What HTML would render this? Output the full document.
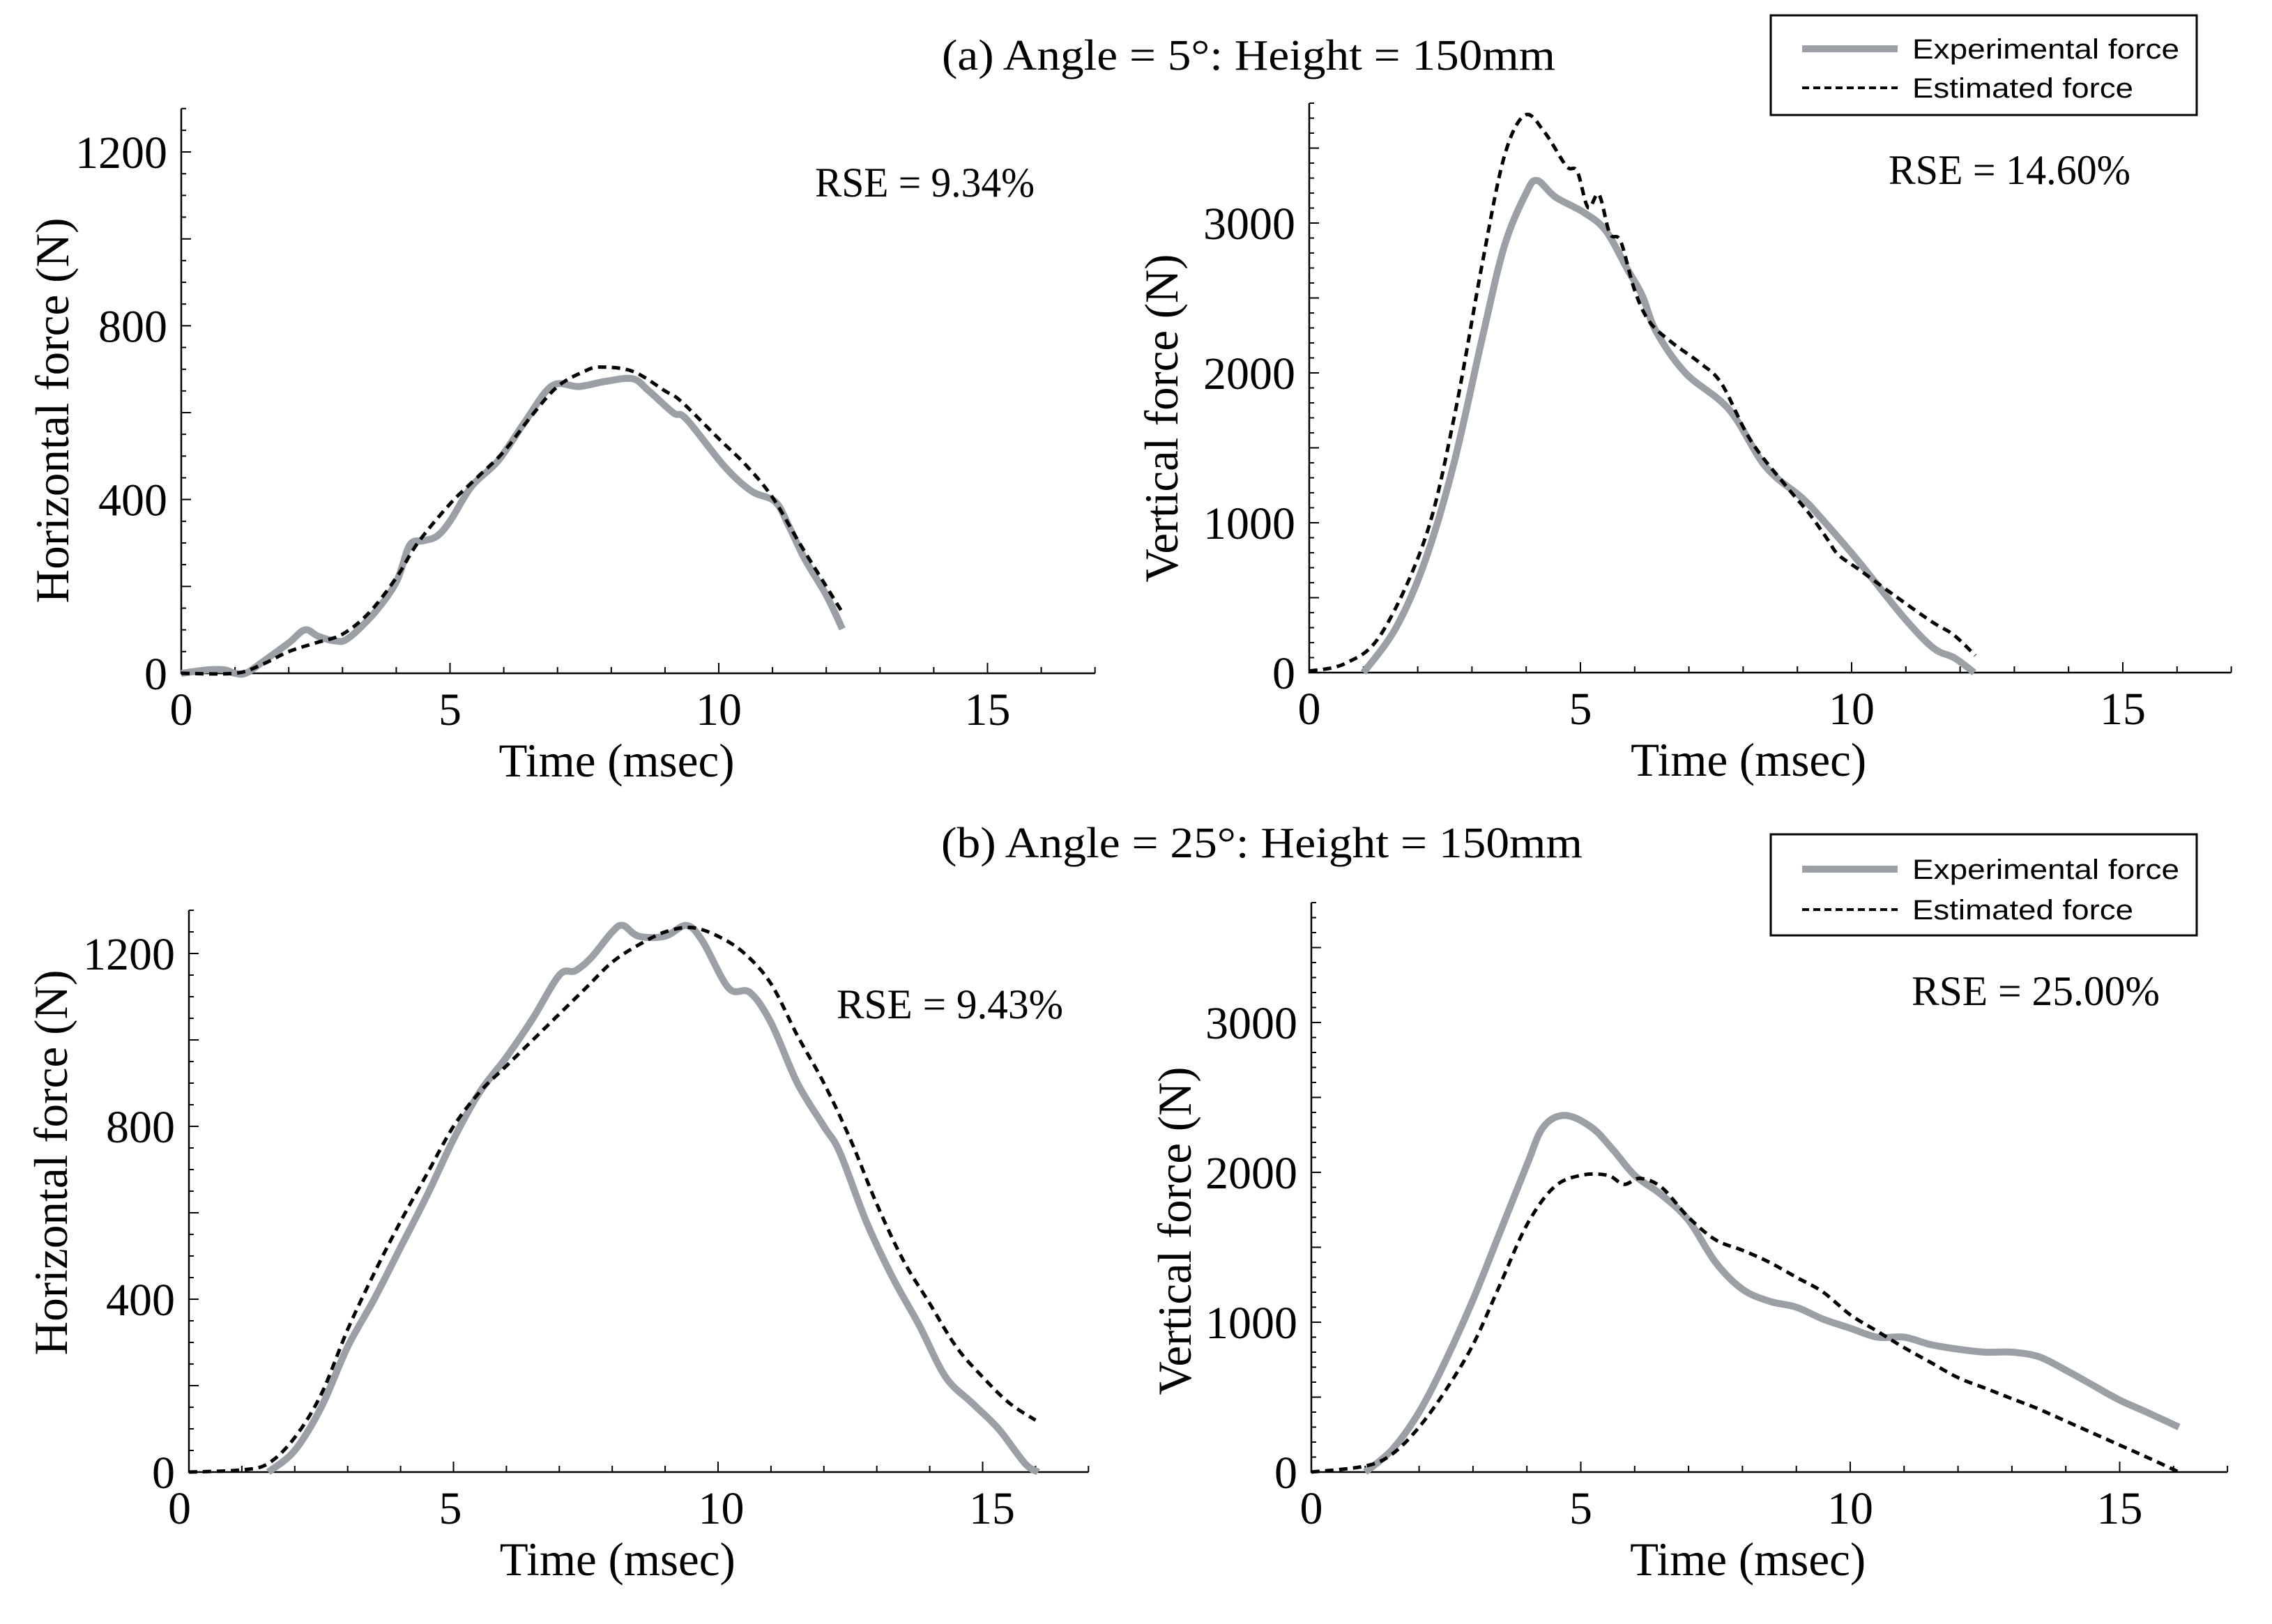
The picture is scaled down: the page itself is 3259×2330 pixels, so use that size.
<!DOCTYPE html>
<html><head><meta charset="utf-8">
<style>
html,body{margin:0;padding:0;background:#fff;}
svg{display:block;}
text{font-family:"Liberation Serif",serif;fill:#000;}
.sans{font-family:"Liberation Sans",sans-serif;}
</style></head>
<body>
<svg id="fig" width="3259" height="2330" viewBox="0 0 3259 2330" xmlns="http://www.w3.org/2000/svg">
<rect width="3259" height="2330" fill="#fff"/>
<text x="1351" y="100" font-size="62" textLength="880" lengthAdjust="spacingAndGlyphs">(a) Angle = 5°: Height = 150mm</text>
<text x="1350" y="1230" font-size="62" textLength="920" lengthAdjust="spacingAndGlyphs">(b) Angle = 25°: Height = 150mm</text>
<g>
<rect x="2540" y="22" width="611" height="143" fill="#fff" stroke="#000" stroke-width="3"/>
<line x1="2585" y1="70" x2="2722" y2="70" stroke="#9ba0a6" stroke-width="10"/>
<line x1="2585" y1="126" x2="2722" y2="126" stroke="#000" stroke-width="4" stroke-dasharray="10 6"/>
<text class="sans" x="2743" y="84" font-size="40" textLength="383" lengthAdjust="spacingAndGlyphs">Experimental force</text>
<text class="sans" x="2743" y="140" font-size="40" textLength="317" lengthAdjust="spacingAndGlyphs">Estimated force</text>
</g>
<g>
<rect x="2540" y="1197" width="611" height="145" fill="#fff" stroke="#000" stroke-width="3"/>
<line x1="2585" y1="1247" x2="2722" y2="1247" stroke="#9ba0a6" stroke-width="10"/>
<line x1="2585" y1="1305" x2="2722" y2="1305" stroke="#000" stroke-width="4" stroke-dasharray="10 6"/>
<text class="sans" x="2743" y="1261" font-size="40" textLength="383" lengthAdjust="spacingAndGlyphs">Experimental force</text>
<text class="sans" x="2743" y="1319" font-size="40" textLength="317" lengthAdjust="spacingAndGlyphs">Estimated force</text>
</g>
</svg>
<script>
// ---- data ----
const tlExpT=[0,0.5,0.8,1.0,1.2,1.5,2.0,2.3,2.55,2.85,3.1,3.6,4.0,4.25,4.5,4.75,5.0,5.4,5.9,6.4,6.9,7.4,7.9,8.4,8.7,9.15,9.4,10.1,10.6,11.05,11.3,11.6,12.0,12.3];
const tlExpV=[0,8,8,0,0,25,70,100,85,75,80,140,210,295,305,315,350,430,490,580,662,660,672,678,650,600,585,477,420,395,340,263,180,102];
const tlEstT=[0,1,1.5,2,2.5,3,3.5,4,4.4,5,5.5,6,6.5,7,7.5,7.8,8.4,9,9.3,10,10.5,11,11.5,12,12.3];
const tlEstV=[0,0,20,50,70,90,140,220,300,390,450,510,590,660,695,705,695,650,626,540,480,405,300,200,140];
const trExpT=[1.0,1.6,2.14,2.67,3.2,3.6,4.0,4.2,4.54,5.07,5.47,5.87,6.14,6.4,6.94,7.74,8.41,9.08,9.4,10.1,10.95,11.5,11.9,12.26];
const trExpV=[0,300,750,1400,2250,2850,3200,3284,3173,3069,2948,2689,2516,2274,1998,1756,1376,1168,1047,754,373,166,97,0];
const trEstT=[0,0.67,1.33,2.14,2.67,3.2,3.6,3.98,4.34,4.74,4.94,5.14,5.34,5.54,5.74,6.0,6.27,6.68,7.2,7.6,8.14,8.81,9.21,9.55,9.75,10.15,10.8,11.48,11.88,12.28];
const trEstV=[10,62,260,900,1700,2750,3450,3720,3605,3380,3346,3104,3190,2931,2879,2551,2343,2205,2067,1929,1549,1237,1065,892,788,684,512,339,252,114];
const blExpT=[1.5,2,2.5,3,3.5,4,4.5,5,5.5,6,6.5,7,7.3,7.6,8.0,8.2,8.5,9.0,9.4,9.7,10.2,10.6,11,11.5,12,12.3,12.8,13.3,13.8,14.3,14.8,15.3,15.8,16.05];
const blExpV=[0,50,150,290,400,520,640,770,880,960,1050,1150,1160,1190,1250,1265,1240,1240,1265,1230,1120,1110,1040,900,800,740,580,450,340,220,160,100,20,0];
const blEstT=[0,1,1.5,2,2.5,3,3.5,4,4.5,5,5.5,6,6.5,7,7.5,8,8.5,9,9.5,10,10.5,11,11.5,12,12.5,13,13.5,14,14.5,15,15.5,16];
const blEstV=[0,5,20,80,180,330,460,580,690,800,880,940,1000,1060,1120,1180,1220,1250,1260,1240,1200,1130,1010,900,770,620,490,390,290,220,160,120];
const brExpT=[1.0,1.5,2,2.5,3,3.5,4,4.3,4.7,5.2,5.6,6,6.5,7,7.5,8,8.5,9,9.5,10,10.5,11,11.5,12,12.5,13,13.5,14,14.5,15,15.5,16.1];
const brExpV=[0,150,400,750,1150,1600,2050,2300,2380,2300,2150,1980,1850,1680,1400,1220,1140,1100,1020,960,900,900,850,820,800,800,770,680,580,480,400,300];
const brEstT=[0,1,1.5,2,2.5,3,3.5,4,4.5,5,5.5,5.8,6.1,6.5,7,7.5,8,8.5,9,9.5,10,10.5,11,11.5,12,12.5,13,13.5,14,14.5,15,15.5,16.1];
const brEstV=[0,40,120,300,550,850,1250,1650,1900,1980,1980,1920,1960,1900,1700,1550,1480,1400,1300,1200,1050,940,830,730,630,560,490,420,340,260,180,100,0];
const hTickLabels=[0,400,800,1200];
const vTickLabels=[0,1000,2000,3000];
const xTickLabels=[0,5,10,15];
const rseLabels=["RSE = 9.34%","RSE = 14.60%","RSE = 9.43%","RSE = 25.00%"];

const NS="http://www.w3.org/2000/svg";
const svg=document.getElementById('fig');
function mk(tag,attrs,parent){const e=document.createElementNS(NS,tag);for(const k in attrs)e.setAttribute(k,attrs[k]);(parent||svg).appendChild(e);return e;}
function smooth(pts){let d=`M${pts[0][0].toFixed(1)},${pts[0][1].toFixed(1)}`;
 for(let i=0;i<pts.length-1;i++){const p0=pts[Math.max(0,i-1)],p1=pts[i],p2=pts[i+1],p3=pts[Math.min(pts.length-1,i+2)];
  const c1=[p1[0]+(p2[0]-p0[0])/6,p1[1]+(p2[1]-p0[1])/6],c2=[p2[0]-(p3[0]-p1[0])/6,p2[1]-(p3[1]-p1[1])/6];
  d+=`C${c1[0].toFixed(1)},${c1[1].toFixed(1)} ${c2[0].toFixed(1)},${c2[1].toFixed(1)} ${p2[0].toFixed(1)},${p2[1].toFixed(1)}`;}
 return d;}

function panel(cfg){
 const g=mk('g',{});
 
 
 const X=t=>cfg.x0+t*cfg.xs, Y=v=>cfg.y0-v*cfg.ys;
 const ax=mk('path',{d:`M${X(0)},${Y(cfg.ymax)}V${cfg.y0}H${X(17)}`,fill:'none',stroke:'#000','stroke-width':2.5},g);
 
 
 let tk='';
 for(let t=1;t<=17;t++){const L=(t%5===0)?15:9;tk+=`M${X(t)},${cfg.y0}v${-L}`;}
 for(let v=cfg.minor;v<=cfg.ymax+0.1;v+=cfg.minor){const L=(Math.round(v)%cfg.major===0)?14:7;tk+=`M${X(0)},${Y(v)}h${L}`;}
 const tp=mk('path',{d:tk,stroke:'#000','stroke-width':2,fill:'none'},g);
 
 
 cfg.ylabels.forEach(v=>{const t=mk('text',{x:X(0)-20,y:Y(v)+23,'font-size':66,'text-anchor':'end'},g);t.textContent=v;
  
  });
 xTickLabels.forEach(v=>{const t=mk('text',{x:X(v)+(v-7.5)*(cfg.lblSpread||0),y:cfg.y0+74,'font-size':66,'text-anchor':'middle'},g);t.textContent=v;
  
  });
 const xt=mk('text',{x:X(8.1)-169,y:cfg.y0+148,'font-size':68,textLength:338,lengthAdjust:'spacingAndGlyphs'},g);xt.textContent='Time (msec)';
 
 
 const yt=mk('text',{x:0,y:0,'font-size':68,'text-anchor':'middle',textLength:cfg.ytLen,lengthAdjust:'spacingAndGlyphs',transform:`translate(${cfg.ytx},${cfg.yty}) rotate(-90)`},g);yt.textContent=cfg.ytitle;
 
 
 const r=mk('text',{x:cfg.rx,y:cfg.ry,'font-size':60,textLength:cfg.rlen,lengthAdjust:'spacingAndGlyphs'},g);r.textContent=cfg.rse;
 
 
 const e=mk('path',{d:smooth(cfg.expT.map((t,i)=>[X(t),Y(cfg.expV[i])])),fill:'none',stroke:'#9ba0a6','stroke-width':10,'stroke-linejoin':'round'},g);
 
 
 const s=mk('path',{d:smooth(cfg.estT.map((t,i)=>[X(t),Y(cfg.estV[i])])),fill:'none',stroke:'#000','stroke-width':5,'stroke-dasharray':'12 8'},g);
 
 
}
panel({name:'panel-a-horizontal',x0:260,xs:77.1,y0:966,ys:0.6233,ymax:1300,minor:50,major:200,ylabels:hTickLabels,ytitle:'Horizontal force (N)',ytx:98,yty:589,ytLen:553,rse:rseLabels[0],rx:1169,ry:282,rlen:315,expT:tlExpT,expV:tlExpV,estT:tlEstT,estV:tlEstV});
panel({name:'panel-a-vertical',x0:1878,xs:77.8,y0:965,ys:0.215,ymax:3800,minor:100,major:500,ylabels:vTickLabels,ytitle:'Vertical force (N)',ytx:1689,yty:600,ytLen:471,rse:rseLabels[1],rx:2709,ry:264,rlen:347,expT:trExpT,expV:trExpV,estT:trEstT,estV:trEstV});
panel({name:'panel-b-horizontal',x0:271,xs:75.9,y0:2112,ys:0.62,ymax:1300,minor:50,major:200,lblSpread:1.8,ylabels:hTickLabels,ytitle:'Horizontal force (N)',ytx:96,yty:1668,ytLen:553,rse:rseLabels[2],rx:1200,ry:1461,rlen:325,expT:blExpT,expV:blExpV,estT:blEstT,estV:blEstV});
panel({name:'panel-b-vertical',x0:1881,xs:77.3,y0:2112,ys:0.215,ymax:3800,minor:100,major:500,ylabels:vTickLabels,ytitle:'Vertical force (N)',ytx:1708,yty:1766,ytLen:471,rse:rseLabels[3],rx:2742,ry:1442,rlen:356,expT:brExpT,expV:brExpV,estT:brEstT,estV:brEstV});
</script>
</body></html>
